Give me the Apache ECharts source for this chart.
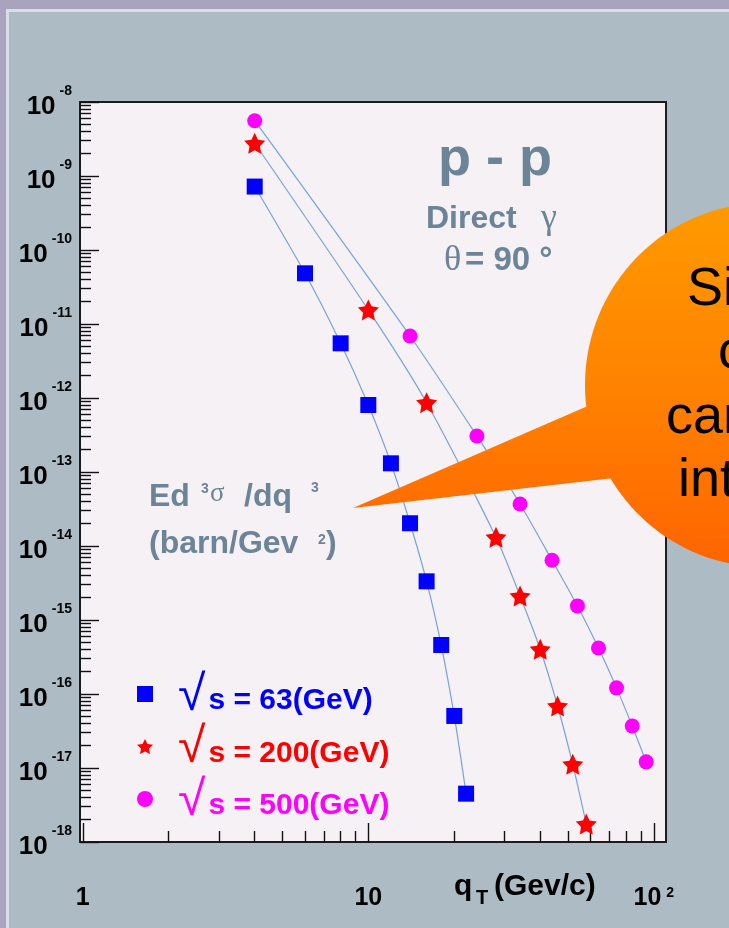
<!DOCTYPE html>
<html>
<head>
<meta charset="utf-8">
<script src="https://cdn.jsdelivr.net/npm/echarts@6/dist/echarts.min.js"></script>
<style>
html,body{margin:0;padding:0;background:#adbcc4;}
#c{width:729px;height:928px;}
</style>
</head>
<body>
<div id="c"></div>
<script>
// ---- data ----
const seriesNames = ['\u221As = 63(GeV)', '\u221As = 200(GeV)', '\u221As = 500(GeV)'];
const blueX = [4, 6, 8, 10, 12, 14, 16, 18, 20, 22];
const blueY = [7.2e-10, 4.84e-11, 5.48e-12, 8.04e-13, 1.31e-13, 2.03e-14, 3.33e-15, 4.59e-16, 5.05e-17, 4.50e-18];
const redX = [4, 10, 16, 28, 34, 40, 46, 52, 58];
const redY = [2.77e-9, 1.55e-11, 8.64e-13, 1.31e-14, 2.11e-15, 4.02e-16, 6.89e-17, 1.12e-17, 1.75e-18];
const magX = [4, 14, 24, 34, 44, 54, 64, 74, 84, 94];
const magY = [5.59e-9, 6.89e-12, 3.07e-13, 3.70e-14, 6.41e-15, 1.55e-15, 4.19e-16, 1.21e-16, 3.70e-17, 1.21e-17];

const xMajorExp = [0, 1, 2];
const yMajorExp = [-18, -17, -16, -15, -14, -13, -12, -11, -10, -9, -8];
const minorMult = [2, 3, 4, 5, 6, 7, 8, 9];
const xRange = [0.9777, 110.3];
const yRange = [1e-18, 1e-8];

const bubbleLines = ['Si', 'c', 'car', 'int'];

// ---- derived tick values ----
const xMajor = xMajorExp.map(e => Math.pow(10, e));
const xMinor = [];
xMajorExp.slice(0, 2).forEach(e => minorMult.forEach(m => xMinor.push(m * Math.pow(10, e))));
const yMajor = yMajorExp.map(e => Math.pow(10, e));
const yMinor = [];
yMajorExp.slice(0, 10).forEach(e => minorMult.forEach(m => yMinor.push(m * Math.pow(10, e))));

const narrowBold = "'Liberation Sans Narrow', 'Liberation Sans', Arial, sans-serif";
const sans = "'Liberation Sans', Arial, sans-serif";
const serif = "'Liberation Serif', 'DejaVu Serif', serif";
const slate = '#6c8497';
const lineCol = '#78a2dc';
const starPath = 'path://M50,0 L64.7,29.8 L97.6,34.5 L73.8,57.7 L79.4,90.5 L50,75 L20.6,90.5 L26.2,57.7 L2.4,34.5 L35.3,29.8 Z';

function expOf(v) { return Math.round(Math.log10(v)); }

const chart = echarts.init(document.getElementById('c'), null, {renderer: 'canvas'});

function grad() {
  return {type: 'linear', x: 0, y: 203, x2: 0, y2: 567, global: true,
    colorStops: [{offset: 0, color: '#ff9a00'}, {offset: 0.5, color: '#ff8300'}, {offset: 1, color: '#ff6400'}]};
}

const tickStyle = {color: '#111', width: 1.4};

const graphics = [
  {type: 'rect', shape: {x: 0, y: 0, width: 729, height: 9}, style: {fill: '#aaa3be'}, silent: true},
  {type: 'rect', shape: {x: 0, y: 0, width: 6, height: 928}, style: {fill: '#aaa3be'}, silent: true},
  {type: 'rect', shape: {x: 6, y: 9, width: 723, height: 3}, style: {fill: '#d8dee3'}, silent: true},
  {type: 'rect', shape: {x: 6, y: 9, width: 3, height: 919}, style: {fill: '#d8dee3'}, silent: true},
  // annotations
  {type: 'text', z: 50, style: {text: 'p - p', x: 495, y: 160, fill: slate, font: 'bold 54px ' + sans, align: 'center', verticalAlign: 'middle'}},
  {type: 'text', z: 50, style: {text: 'Direct', x: 426, y: 219, fill: slate, font: 'bold 32px ' + sans, align: 'left', verticalAlign: 'middle'}},
  {type: 'text', z: 50, style: {text: '\u03B3', x: 541, y: 219, fill: slate, font: '36px ' + serif, align: 'left', verticalAlign: 'middle'}},
  {type: 'text', z: 50, style: {text: '\u03B8', x: 444, y: 261, fill: slate, font: '36px ' + serif, align: 'left', verticalAlign: 'middle'}},
  {type: 'text', z: 50, style: {text: '= 90 \u00B0', x: 465, y: 261, fill: slate, font: 'bold 33px ' + sans, align: 'left', verticalAlign: 'middle'}},
  {type: 'text', z: 50, style: {text: 'Ed', x: 149, y: 497, fill: slate, font: 'bold 32px ' + sans, align: 'left', verticalAlign: 'middle'}},
  {type: 'text', z: 50, style: {text: '3', x: 201, y: 489, fill: slate, font: 'bold 14px ' + sans, align: 'left', verticalAlign: 'middle'}},
  {type: 'text', z: 50, style: {text: '\u03C3', x: 210, y: 494, fill: slate, font: '27px ' + serif, align: 'left', verticalAlign: 'middle'}},
  {type: 'text', z: 50, style: {text: '/dq', x: 244, y: 497, fill: slate, font: 'bold 32px ' + sans, align: 'left', verticalAlign: 'middle'}},
  {type: 'text', z: 50, style: {text: '3', x: 311, y: 488, fill: slate, font: 'bold 14px ' + sans, align: 'left', verticalAlign: 'middle'}},
  {type: 'text', z: 50, style: {text: '(barn/Gev', x: 149, y: 544, fill: slate, font: 'bold 32px ' + sans, align: 'left', verticalAlign: 'middle'}},
  {type: 'text', z: 50, style: {text: '2', x: 318, y: 540, fill: slate, font: 'bold 14px ' + sans, align: 'left', verticalAlign: 'middle'}},
  {type: 'text', z: 50, style: {text: ')', x: 326, y: 544, fill: slate, font: 'bold 32px ' + sans, align: 'left', verticalAlign: 'middle'}},
  // x axis title
  {type: 'text', z: 50, style: {text: 'q', x: 454, y: 887, fill: '#000', font: 'bold 30px ' + sans, align: 'left', verticalAlign: 'middle'}},
  {type: 'text', z: 50, style: {text: 'T', x: 476, y: 898, fill: '#000', font: 'bold 20px ' + sans, align: 'left', verticalAlign: 'middle'}},
  {type: 'text', z: 50, style: {text: '(Gev/c)', x: 494, y: 887, fill: '#000', font: 'bold 30px ' + sans, align: 'left', verticalAlign: 'middle'}},
  // callout bubble
  {type: 'polygon', z: 100, shape: {points: [[353, 508], [590, 405], [700, 420], [614, 478]]}, style: {fill: grad()}},
  {type: 'ellipse', z: 100, shape: {cx: 765, cy: 385, rx: 180, ry: 182}, style: {fill: grad()}},
  {type: 'text', z: 101, style: {text: bubbleLines[0], x: 687, y: 290, fill: '#000', font: '54px ' + sans, align: 'left', verticalAlign: 'middle'}},
  {type: 'text', z: 101, style: {text: bubbleLines[1], x: 718, y: 353, fill: '#000', font: '54px ' + sans, align: 'left', verticalAlign: 'middle'}},
  {type: 'text', z: 101, style: {text: bubbleLines[2], x: 666, y: 418, fill: '#000', font: '54px ' + sans, align: 'left', verticalAlign: 'middle'}},
  {type: 'text', z: 101, style: {text: bubbleLines[3], x: 678, y: 481, fill: '#000', font: '54px ' + sans, align: 'left', verticalAlign: 'middle'}}
];

function mkSeries(name, xs, ys, symbol, size, color) {
  return {
    type: 'line', name: name, xAxisIndex: 0, yAxisIndex: 0,
    data: xs.map((x, i) => [x, ys[i]]),
    symbol: symbol, symbolSize: size, smooth: 0.25,
    itemStyle: {color: color},
    lineStyle: {color: lineCol, width: 1.2},
    z: 3
  };
}

const legendRich = {};
['#0000ff', '#ff0000', '#ff00ff'].forEach((c, i) => {
  legendRich['r' + i] = {fontFamily: sans, fontSize: 50, lineHeight: 46, color: c, padding: [4, 3, 0, 20]};
  legendRich['t' + i] = {fontFamily: sans, fontWeight: 'bold', fontSize: 30, lineHeight: 46, color: c, padding: [14, 0, 0, 0]};
});

const option = {
  backgroundColor: '#adbcc4',
  animation: false,
  grid: {left: 80, top: 102, width: 586, height: 740, show: true, backgroundColor: '#f5f1f5', borderColor: '#1c1c1c', borderWidth: 2, containLabel: false},
  xAxis: [
    {type: 'log', position: 'bottom', min: xRange[0], max: xRange[1],
     axisLine: {show: false}, splitLine: {show: false},
     axisTick: {show: true, inside: true, length: 19, customValues: xMajor, lineStyle: tickStyle},
     axisLabel: {show: true, customValues: xMajor, margin: 44, color: '#000',
       formatter: v => { const e = expOf(v); return e === 0 ? '{m|1}' : (e === 1 ? '{m|10}' : '{m|10}{s|' + e + '}'); },
       rich: {m: {fontFamily: narrowBold, fontWeight: 'bold', fontSize: 25, lineHeight: 25, verticalAlign: 'bottom', color: '#000'},
              s: {fontFamily: narrowBold, fontWeight: 'bold', fontSize: 14, lineHeight: 14, verticalAlign: 'top', color: '#000', padding: [0, 0, 0, 5]}}}},
    {type: 'log', position: 'bottom', min: xRange[0], max: xRange[1],
     axisLine: {show: false}, splitLine: {show: false},
     axisTick: {show: true, inside: true, length: 11, customValues: xMinor, lineStyle: tickStyle},
     axisLabel: {show: false}}
  ],
  yAxis: [
    {type: 'log', position: 'left', min: yRange[0], max: yRange[1],
     axisLine: {show: false}, splitLine: {show: false},
     axisTick: {show: true, inside: true, length: 19, customValues: yMajor, lineStyle: tickStyle},
     axisLabel: {show: true, customValues: yMajor, margin: 8, color: '#000', showMinLabel: true, showMaxLabel: true,
       formatter: v => '{m|10}{s|' + expOf(v) + '}',
       rich: {m: {fontFamily: narrowBold, fontWeight: 'bold', fontSize: 26, lineHeight: 36, verticalAlign: 'bottom', color: '#000'},
              s: {fontFamily: narrowBold, fontWeight: 'bold', fontSize: 14, lineHeight: 14, verticalAlign: 'top', color: '#000', padding: [0, 0, 0, 4]}}}},
    {type: 'log', position: 'left', min: yRange[0], max: yRange[1],
     axisLine: {show: false}, splitLine: {show: false},
     axisTick: {show: true, inside: true, length: 11, customValues: yMinor, lineStyle: tickStyle},
     axisLabel: {show: false}}
  ],
  legend: {
    orient: 'vertical', left: 137, top: 667, padding: 0, itemGap: -1.5,
    itemWidth: 16, itemHeight: 16, selectedMode: false,
    data: [{name: seriesNames[0], icon: 'rect'}, {name: seriesNames[1], icon: starPath}, {name: seriesNames[2], icon: 'circle'}],
    formatter: name => { const i = seriesNames.indexOf(name); return '{r' + i + '|\u221A}{t' + i + '|' + name.slice(1) + '}'; },
    textStyle: {rich: legendRich}
  },
  series: [
    mkSeries(seriesNames[0], blueX, blueY, 'rect', 16, '#0000ff'),
    mkSeries(seriesNames[1], redX, redY, starPath, 21, '#ff0000'),
    mkSeries(seriesNames[2], magX, magY, 'circle', 15, '#ff00ff')
  ],
  graphic: graphics
};
chart.setOption(option);
</script>
</body>
</html>
